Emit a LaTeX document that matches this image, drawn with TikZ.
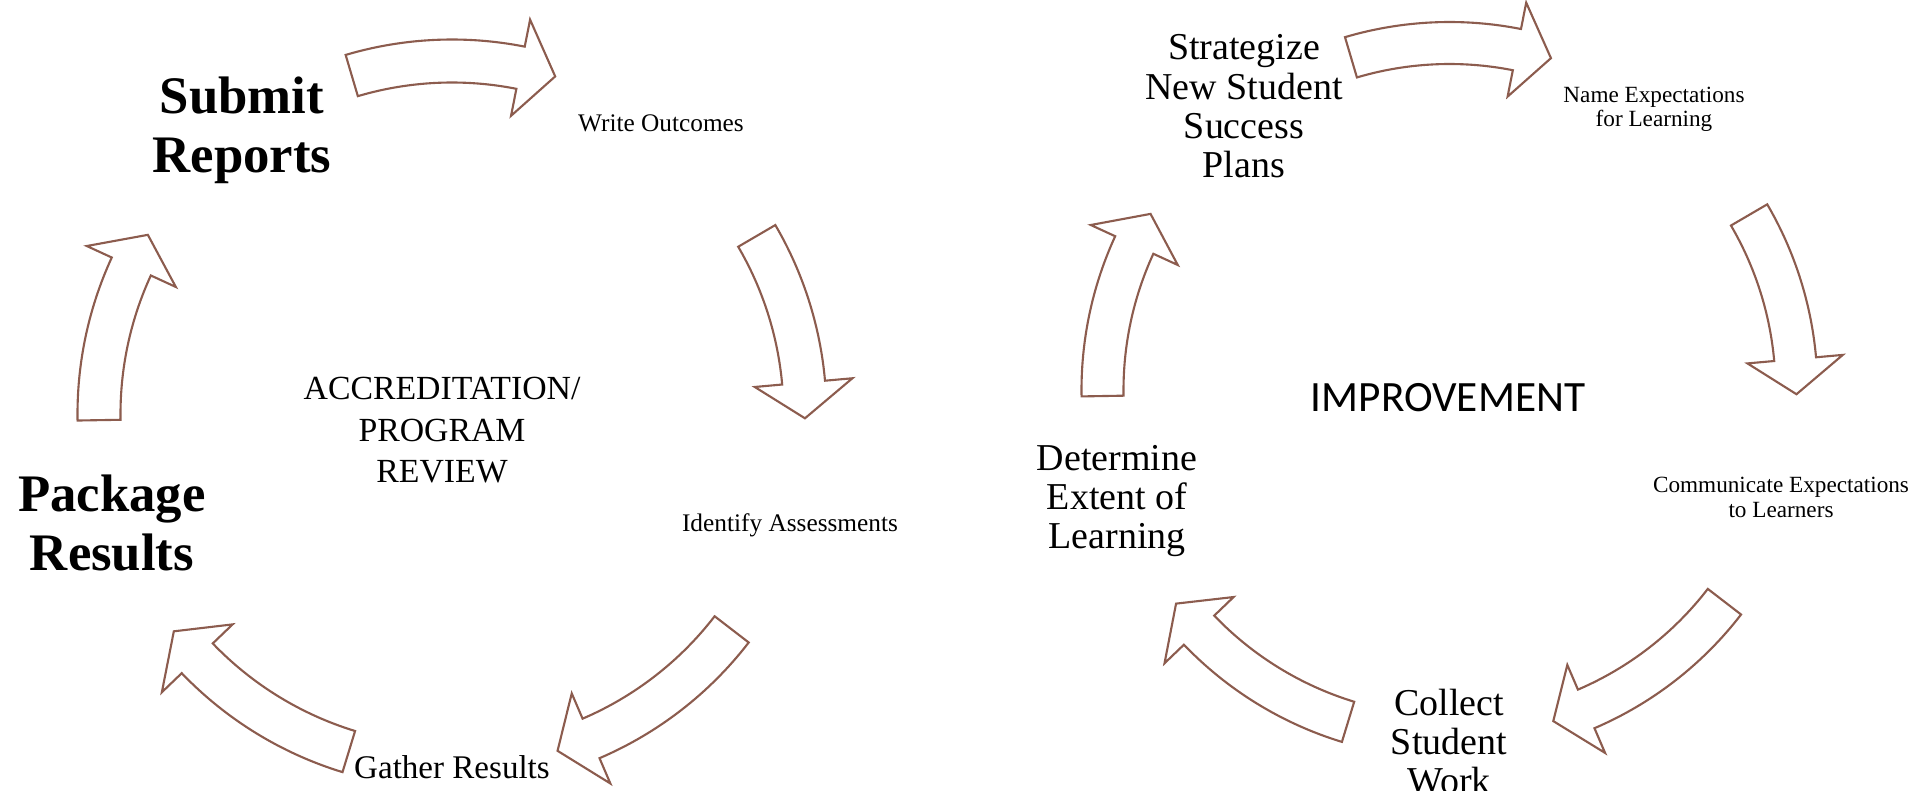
\documentclass[tikz,border=0pt]{standalone}
\usepackage{fontspec}
\setmainfont{Liberation Serif}
\newfontfamily\calibrifont{Carlito}
\usetikzlibrary{calc}
\usepackage{xcolor}
\definecolor{arrowbrown}{RGB}{140,92,78}
\def\leftrad{353}
\def\rightrad{347}
% curved block arrow: centre, radius, half band width, tail angle, tip angle
\newcommand{\cyclearrow}[5]{%
    \pgfmathsetmacro{\arOut}{#2+#3}
    \pgfmathsetmacro{\arIn}{#2-#3}
    \pgfmathsetmacro{\arBase}{#5+5.8}
    \pgfmathsetmacro{\arHeadOut}{#2+2.28*#3}
    \pgfmathsetmacro{\arHeadIn}{#2-2.28*#3}
    \draw[cycle arrow] ($(#1)+(#4:\arOut)$) arc[start angle=#4, end angle=\arBase, radius=\arOut]
        -- ($(#1)+(\arBase:\arHeadOut)$) -- ($(#1)+(#5:#2)$) -- ($(#1)+(\arBase:\arHeadIn)$)
        -- ($(#1)+(\arBase:\arIn)$) arc[start angle=\arBase, end angle=#4, radius=\arIn] -- cycle;
}

\begin{document}
\begin{tikzpicture}[x=0.01cm, y=0.01cm, inner sep=0pt]
    \tikzstyle{cycle arrow}=[draw=arrowbrown, line width=0.6pt, fill=white, line join=miter]
    \tikzstyle{step label}=[align=center]
    \tikzstyle{big label}=[step label, font=\fontsize{15}{16.8}\selectfont\bfseries]
    \tikzstyle{mid label}=[step label, font=\fontsize{10.8}{11}\selectfont]
    \tikzstyle{small label}=[step label, font=\fontsize{7.2}{8.6}\selectfont]
    \tikzstyle{tiny label}=[step label, font=\fontsize{6.6}{6.85}\selectfont]
    \tikzstyle{title label}=[step label, font=\fontsize{9.6}{11.86}\selectfont]

    \useasboundingbox (0,0) rectangle (1921,791);
    \coordinate (L) at (452,377);
    \coordinate (R) at (1449.5,401);

    % Draw the accreditation cycle
    \node[big label] (submit) at (242,660.8) {Submit\\Reports};
    \node[small label, anchor=base] (write) at (661,659.3) {Write Outcomes};
    \node[small label, anchor=base] (identify) at (790,259.3) {Identify Assessments};
    \node[step label, anchor=base, font=\fontsize{9.4}{11}\selectfont] (gather) at (452,12) {Gather Results};
    \node[big label] (package) at (112,268) {Package\\Results};
    \node[title label] (accred) at (442,360.7) {ACCREDITATION/\\PROGRAM\\REVIEW};

    \cyclearrow{L}{\leftrad}{21.5}{106.5}{73}
    \cyclearrow{L}{\leftrad}{21.5}{30.3}{-0.7}
    \cyclearrow{L}{\leftrad}{21.5}{-37.6}{-72.6}
    \cyclearrow{L}{\leftrad}{21.5}{-107}{-142}
    \cyclearrow{L}{\leftrad}{21.5}{181}{149.5}

    % Draw the improvement cycle
    \node[mid label, font=\fontsize{10.8}{11.2}\selectfont] (strategize) at (1244,684.5) {Strategize\\New Student\\Success\\Plans};
    \node[tiny label] (name) at (1654,681.7) {Name Expectations\\for Learning};
    \node[tiny label] (communicate) at (1781,293.6) {Communicate Expectations\\to Learners};
    \node[mid label] (collect) at (1449,49.5) {Collect\\Student\\Work};
    \node[mid label] (determine) at (1117,289.8) {Determine\\Extent of\\Learning};
    \node[anchor=base, font=\calibrifont\fontsize{12.3}{14}\selectfont] (improve) at (1448,379.3) {IMPROVEMENT};

    \cyclearrow{R}{\rightrad}{21}{106.5}{73}
    \cyclearrow{R}{\rightrad}{21}{30.3}{-0.7}
    \cyclearrow{R}{\rightrad}{21}{-37.6}{-72.6}
    \cyclearrow{R}{\rightrad}{21}{-107}{-142}
    \cyclearrow{R}{\rightrad}{21}{181}{149.5}
\end{tikzpicture}
\end{document}
